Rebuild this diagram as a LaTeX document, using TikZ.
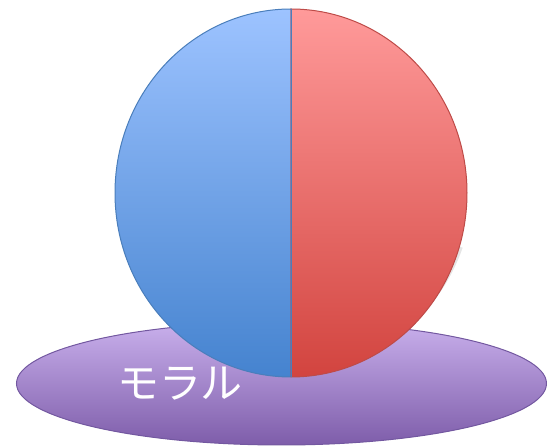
\documentclass[tikz,border=0pt]{standalone}
\usepackage{fontspec}
\newfontfamily\cjk{Noto Sans CJK JP}
\definecolor{blueTop}{HTML}{9DC3FF}
\definecolor{blueBot}{HTML}{4583CF}
\definecolor{blueLine}{HTML}{4A7EBB}
\definecolor{redTop}{HTML}{FF9A9A}
\definecolor{redBot}{HTML}{D2443F}
\definecolor{redLine}{HTML}{BE4B48}
\definecolor{purTop}{HTML}{C9B0EC}
\definecolor{purBot}{HTML}{7E5DAA}
\definecolor{purLine}{HTML}{7358A0}
\tikzset{
  half/.style={line width=1pt, line join=round},
}
\begin{document}
\begin{tikzpicture}[x=1pt,y=1pt]
\useasboundingbox (0,0) rectangle (547,447);
% base ellipse
\shade[top color=purTop, bottom color=purBot, draw=purLine, line width=1pt]
  (281.5,63.5) ellipse[x radius=265, y radius=61.5];
% soft shadow under the sphere
\draw[black, opacity=0.10, line width=4pt]
  (130,200) arc[start angle=200, end angle=340, x radius=176, y radius=184];
% left half
\shade[half, top color=blueTop, bottom color=blueBot, draw=blueLine]
  (291,438) arc[start angle=90, end angle=270, x radius=176, y radius=184] -- cycle;
% right half
\shade[half, top color=redTop, bottom color=redBot, draw=redLine]
  (291,438) arc[start angle=90, end angle=-90, x radius=176, y radius=184] -- cycle;
\draw[blueLine, line width=1pt] (291,438) -- (291,70);
\node[text=white, font=\cjk\fontsize{42}{42}\selectfont, inner sep=0pt] (moral) at (180,63) {モラル};
\end{tikzpicture}
\end{document}
